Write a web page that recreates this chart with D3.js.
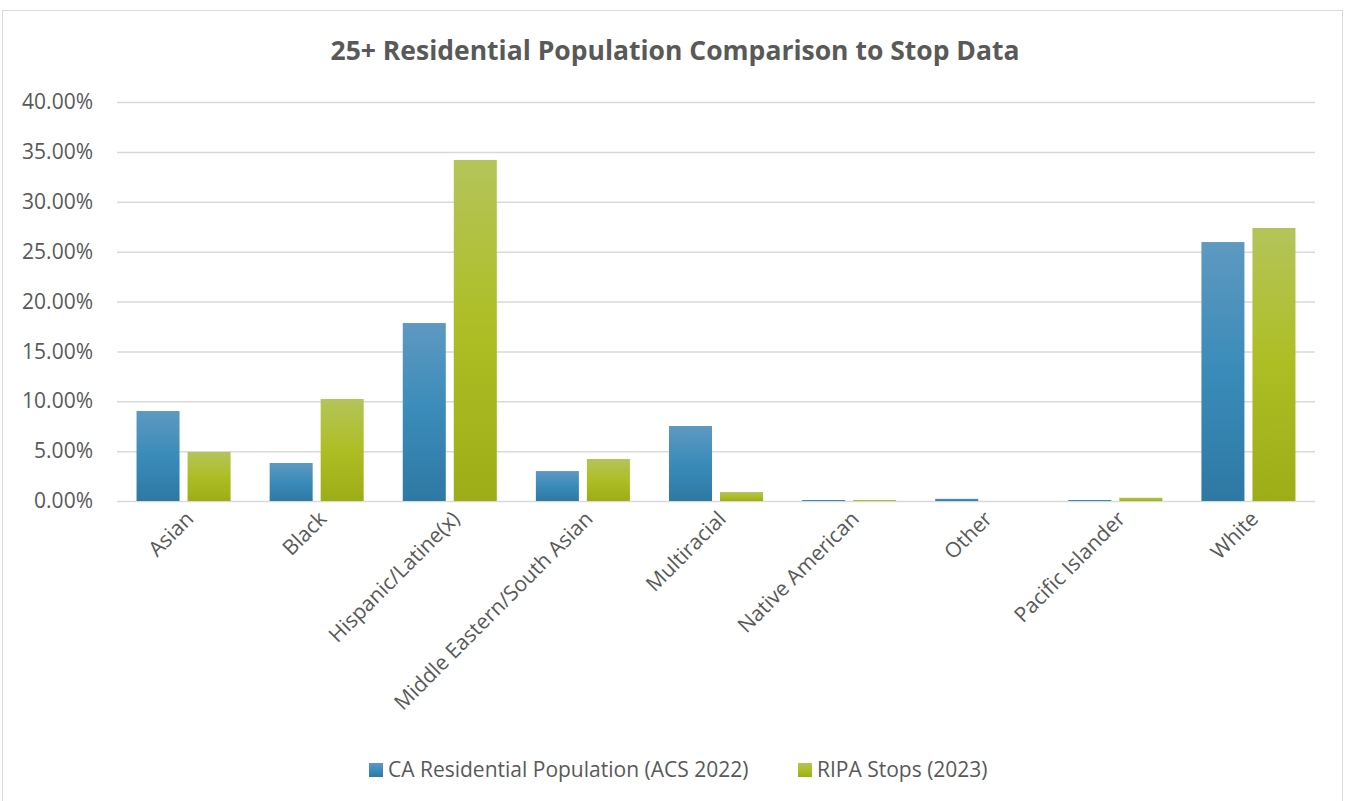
<!DOCTYPE html>
<html>
<head>
<meta charset="utf-8">
<script src="https://cdn.jsdelivr.net/npm/d3@7"></script>
<style>
  html, body { margin: 0; padding: 0; background: #fff; }
  #canvas { width: 1346px; height: 801px; }
  text { font-family: "Open Sans", "Noto Sans", sans-serif; fill: #595959; }
</style>
</head>
<body>
<div id="canvas"></div>
<script>
let categories = ["Asian", "Black", "Hispanic/Latine(x)", "Middle Eastern/South Asian",
  "Multiracial", "Native American", "Other", "Pacific Islander", "White"];
let seriesNames = ["CA Residential Population (ACS 2022)", "RIPA Stops (2023)"];
let acs = [9.02, 3.81, 17.84, 3.0, 7.52, 0.1, 0.22, 0.1, 25.96];
let ripa = [4.91, 10.23, 34.19, 4.21, 0.9, 0.1, 0.0, 0.33, 27.37];
let yTicks = [0, 5, 10, 15, 20, 25, 30, 35, 40];

// gradient stops per series: top, middle, bottom
let gradients = [
  ["#5e99c1", "#3a8bb9", "#2e79a4"],
  ["#b4c45a", "#adbe24", "#9dad17"]
];

let width = 1346, height = 801;
let margin = { top: 102, right: 31, bottom: 300, left: 117 };

let svg = d3
  .select("#canvas")
  .append("svg")
  .attr("width", width)
  .attr("height", height);

// outer chart border
svg.append("rect")
  .attr("x", 2.5).attr("y", 10.5)
  .attr("width", 1340).attr("height", 800)
  .attr("fill", "#fff")
  .attr("stroke", "#d9d9d9");

let defs = svg.append("defs");
gradients.forEach((g, i) => {
  let lg = defs.append("linearGradient")
    .attr("id", "grad" + i)
    .attr("x1", 0).attr("y1", 0).attr("x2", 0).attr("y2", 1);
  lg.append("stop").attr("offset", "0%").attr("stop-color", g[0]);
  lg.append("stop").attr("offset", "50%").attr("stop-color", g[1]);
  lg.append("stop").attr("offset", "100%").attr("stop-color", g[2]);
});

let x0 = d3.scaleBand()
  .domain(categories)
  .range([margin.left, width - margin.right])
  .padding(0);

let x1 = d3.scaleBand()
  .domain([0, 1])
  .range([0, x0.bandwidth()])
  .paddingInner(0.157)
  .paddingOuter(0.383);

let y = d3.scaleLinear()
  .domain([0, 40])
  .range([501, margin.top]);

// title
svg.append("text")
  .attr("x", 675)
  .attr("y", 60)
  .attr("text-anchor", "middle")
  .style("font-size", "26.5px")
  .style("font-weight", "bold")
  .text("25+ Residential Population Comparison to Stop Data");

// grid + y labels
let yAxis = d3.axisLeft(y)
  .tickValues(yTicks)
  .tickSize(-(width - margin.right - margin.left))
  .tickPadding(24)
  .tickFormat(d => d3.format(".2f")(d) + "%");

let gy = svg.append("g")
  .attr("transform", `translate(${margin.left},0)`)
  .call(yAxis);
gy.select(".domain").remove();
gy.selectAll(".tick line").attr("stroke", "#d9d9d9").attr("stroke-width", 1.5);
gy.selectAll(".tick text")
  .style("font-size", "21px")
  .style("font-family", "'Open Sans', sans-serif")
  .attr("fill", "#595959");

// bars
let rows = categories.map((c, i) => ({ cat: c, vals: [acs[i], ripa[i]] }));

let groups = svg.append("g")
  .selectAll("g")
  .data(rows)
  .join("g")
  .attr("transform", d => `translate(${x0(d.cat)},0)`);

groups.selectAll("rect")
  .data(d => d.vals.map((v, k) => ({ k, v })))
  .join("rect")
  .attr("x", d => x1(d.k))
  .attr("width", x1.bandwidth())
  .attr("y", d => y(d.v))
  .attr("height", d => y(0) - y(d.v))
  .attr("fill", d => `url(#grad${d.k})`);

// x labels
svg.append("g")
  .selectAll("text")
  .data(categories)
  .join("text")
  .attr("transform", d => `translate(${x0(d) + x0.bandwidth() / 2 + 6},${y(0) + 14}) rotate(-45)`)
  .attr("text-anchor", "end")
  .attr("dy", "0.35em")
  .style("font-size", "21px")
  .text(d => d);

// legend
let legendX = [369, 798];
let legend = svg.append("g")
  .selectAll("g")
  .data(seriesNames)
  .join("g")
  .attr("transform", (d, i) => `translate(${legendX[i]},763)`);

legend.append("rect")
  .attr("width", 14).attr("height", 14)
  .attr("fill", (d, i) => `url(#grad${i})`);

legend.append("text")
  .attr("x", 19)
  .attr("y", 7)
  .attr("dy", "0.35em")
  .style("font-size", "21px")
  .text(d => d);
</script>
</body>
</html>
